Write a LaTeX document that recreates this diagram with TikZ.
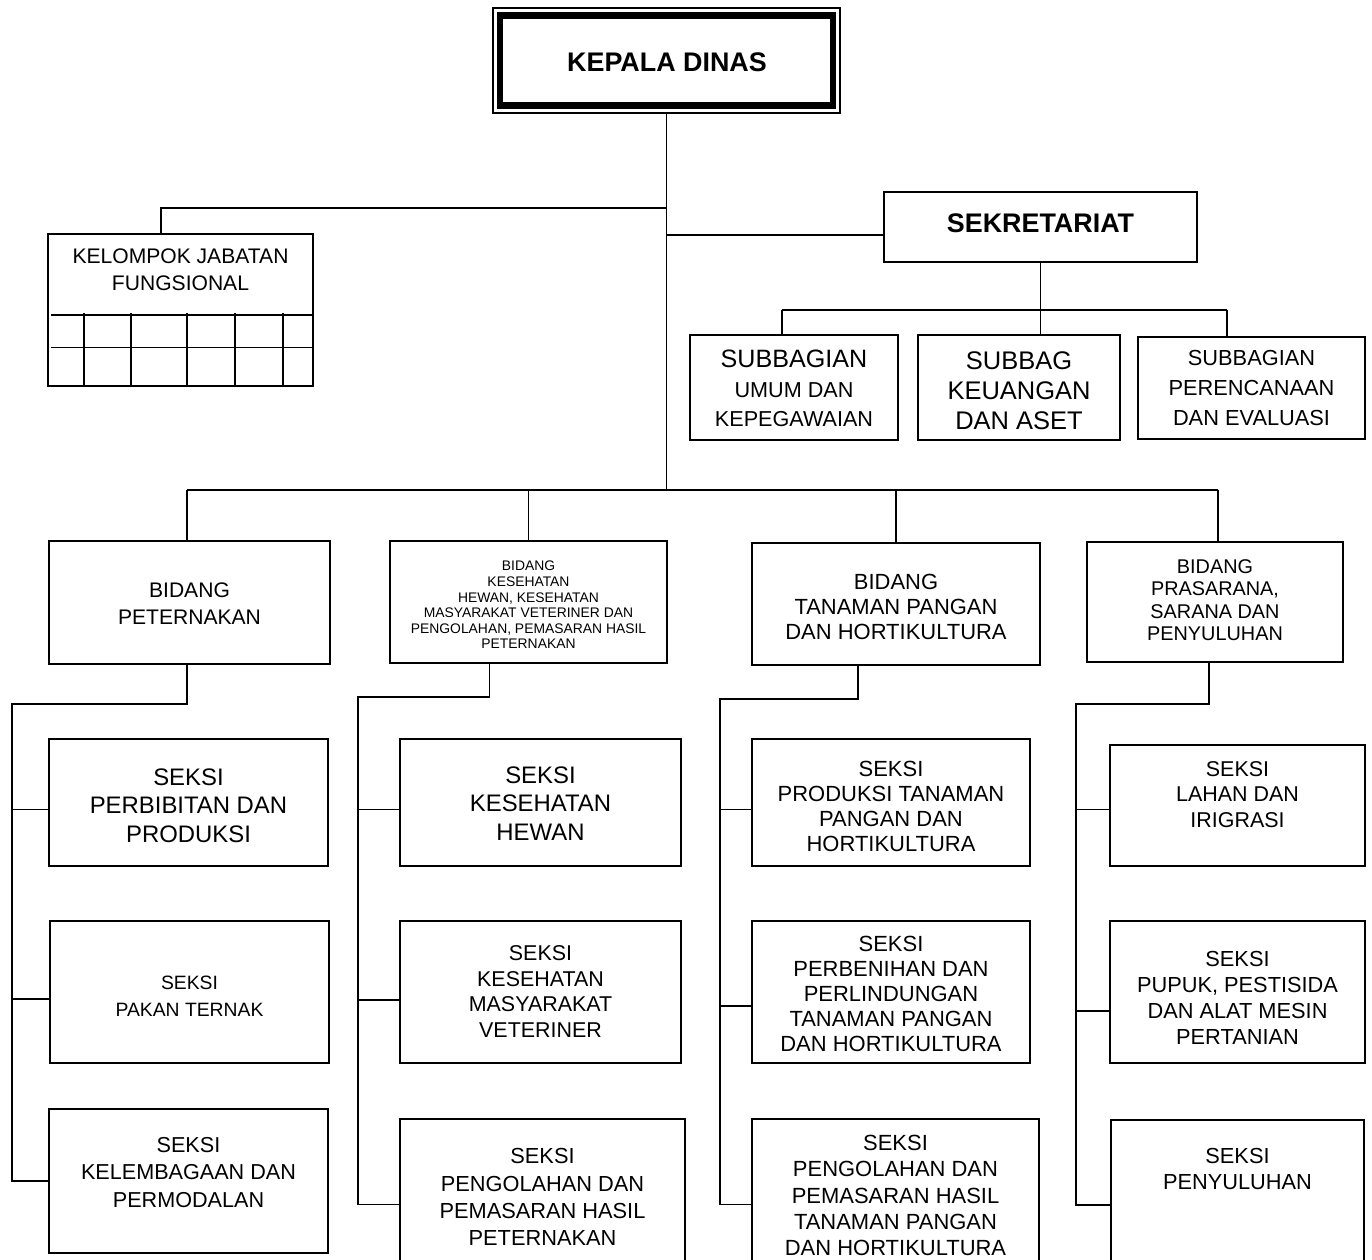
\documentclass[tikz,border=0pt]{standalone}
\usepackage{fontspec}
\setmainfont{Liberation Sans}
\usetikzlibrary{fit,calc}
\tikzset{
  box/.style={draw,line width=1pt,inner sep=0pt},
  kdin/.style={draw,line width=3.7pt,inner sep=0pt},
  txt/.style={align=center,inner sep=0pt},
  ln/.style={line width=1.05pt},
  gridln/.style={line width=0.8pt}
}
\newcommand{\fs}[2]{\fontsize{#1}{#2}\selectfont}
% name, x1, y1, x2, y2, text y, font, text
\newcommand{\orgbox}[8]{\node[box,fit={(#2,#3) (#4,#5)}] (#1) {};
  \node[txt,font=#7] (#1-t) at ({(#2+#4)/2},#6) {#8};}

\begin{document}
\begin{tikzpicture}[x=0.02cm,y=-0.02cm]
\useasboundingbox (0,0) rectangle (1372,1259);
\clip (0,0) rectangle (1372,1259);
% kepala dinas
\node[box,line width=0.8pt,fit={(493,8) (840,113)}] (kd) {};
\node[kdin,fit={(500,15.5) (833,105.5)}] (kd-in) {};
\node[txt,font=\fs{15.3}{18}\bfseries] (kd-t) at (667,62) {KEPALA DINAS};
\orgbox{sek}{884}{192}{1197}{262}{223}{\fs{15.3}{18}\bfseries}{SEKRETARIAT}
\orgbox{kjf}{48}{234}{313}{386}{269.5}{\fs{12}{15.3}}{KELOMPOK JABATAN\\FUNGSIONAL}
\draw[gridln] (51,315) -- (314,315);
\draw[gridln] (51,347.5) -- (313,347.5);
\foreach \gx in {84,131,187,235,283} \draw[gridln] (\gx,313) -- (\gx,386);
% subbagian
\orgbox{sb1}{690}{335}{898}{440}{388.5}{\fs{12.3}{16.7}}{{\fs{14.3}{16.7}SUBBAGIAN}\\UMUM DAN\\KEPEGAWAIAN}
\orgbox{sb2}{918}{335}{1120}{440}{391}{\fs{14.5}{17}}{SUBBAG\\KEUANGAN\\DAN ASET}
\orgbox{sb3}{1138}{337}{1365}{439}{388}{\fs{12.4}{17}}{SUBBAGIAN\\PERENCANAAN\\DAN EVALUASI}
% bidang
\orgbox{b1}{49}{541}{330}{664}{603.5}{\fs{12}{15.3}}{BIDANG\\PETERNAKAN}
\orgbox{b2}{390}{541}{667}{663}{605}{\fs{7.9}{8.85}}{BIDANG\\KESEHATAN\\HEWAN, KESEHATAN\\MASYARAKAT VETERINER DAN\\PENGOLAHAN, PEMASARAN HASIL\\PETERNAKAN}
\orgbox{b3}{752}{543}{1040}{665}{607}{\fs{12.5}{14.2}}{BIDANG\\TANAMAN PANGAN\\DAN HORTIKULTURA}
\orgbox{b4}{1087}{542}{1343}{662}{600}{\fs{11.3}{12.8}}{BIDANG\\PRASARANA,\\SARANA DAN\\PENYULUHAN}
% seksi
\orgbox{s11}{49}{739}{328}{866}{805.5}{\fs{13.6}{16.2}}{SEKSI\\PERBIBITAN DAN\\PRODUKSI}
\orgbox{s12}{50}{921}{329}{1063}{996.5}{\fs{11}{15.3}}{SEKSI\\PAKAN TERNAK}
\orgbox{s13}{49}{1109}{328}{1253}{1172.5}{\fs{12.3}{15.9}}{SEKSI\\KELEMBAGAAN DAN\\PERMODALAN}
\orgbox{s21}{400}{739}{681}{866}{803.5}{\fs{13.6}{16.2}}{SEKSI\\KESEHATAN\\HEWAN}
\orgbox{s22}{400}{921}{681}{1063}{991.5}{\fs{12.2}{14.5}}{SEKSI\\KESEHATAN\\MASYARAKAT\\VETERINER}
\orgbox{s23}{400}{1119}{685}{1290}{1197}{\fs{12.4}{15.5}}{SEKSI\\PENGOLAHAN DAN\\PEMASARAN HASIL\\PETERNAKAN}
\orgbox{s31}{752}{739}{1030}{866}{806.5}{\fs{12.5}{14.2}}{SEKSI\\PRODUKSI TANAMAN\\PANGAN DAN\\HORTIKULTURA}
\orgbox{s32}{752}{921}{1030}{1063}{994}{\fs{12.5}{14.2}}{SEKSI\\PERBENIHAN DAN\\PERLINDUNGAN\\TANAMAN PANGAN\\DAN HORTIKULTURA}
\orgbox{s33}{752}{1119}{1039}{1290}{1195.5}{\fs{12.5}{14.9}}{SEKSI\\PENGOLAHAN DAN\\PEMASARAN HASIL\\TANAMAN PANGAN\\DAN HORTIKULTURA}
\orgbox{s41}{1110}{745}{1365}{866}{794.5}{\fs{12.2}{14.5}}{SEKSI\\LAHAN DAN\\IRIGRASI}
\orgbox{s42}{1110}{921}{1365}{1063}{998}{\fs{12.4}{14.7}}{SEKSI\\PUPUK, PESTISIDA\\DAN ALAT MESIN\\PERTANIAN}
\orgbox{s43}{1111}{1120}{1364}{1290}{1169}{\fs{12.4}{15.3}}{SEKSI\\PENYULUHAN}
% top connectors
\coordinate (kl) at (161,208);
\coordinate (ks) at (667,235);
\coordinate (ml) at (187,490);
\coordinate (mr) at (1218,490);
\draw[ln] (kd.south) -- (kd.south |- mr);
\draw[ln] (kd.south |- kl) -- (kl) -- (kl |- kjf.north);
\draw[ln] (ks) -- (ks -| sek.west);
% sekretariat
\coordinate (sl) at (782,310);
\coordinate (sr) at (1227,310);
\draw[ln] (sek.south) -- (sek.south |- sb2.north);
\draw[ln] (sl) -- (sr);
\draw[ln] (sl) -- (sl |- sb1.north);
\draw[ln] (sr) -- (sr |- sb3.north);
% bidang
\draw[ln] (ml) -- (mr);
\draw[ln] (ml) -- (ml |- b1.north);
\draw[ln] (b2.north |- ml) -- (b2.north);
\draw[ln] (b3.north |- ml) -- (b3.north);
\draw[ln] (mr) -- (mr |- b4.north);
% seksi
\coordinate (e1) at (12,704);
\coordinate (e2) at (358,697);
\coordinate (e3) at (720,699);
\coordinate (e4) at (1076,704);
\draw[ln] ($(b1.south)+(-2.5,0)$) |- (e1) -- (e1 |- s13.west) -- (s13.west);
\draw[ln] ($(b2.south)+(-39,0)$) |- (e2) -- (e2 |- s23.west) -- (s23.west);
\draw[ln] ($(b3.south)+(-38,0)$) |- (e3) -- (e3 |- s33.west) -- (s33.west);
\draw[ln] ($(b4.south)+(-6,0)$) |- (e4) -- (e4 |- s43.west) -- (s43.west);
\draw[ln] (e1 |- s11.west) ++(0,7) -- ($(s11.west)+(0,7)$);
\draw[ln] (e1 |- s12.west) ++(0,7) -- ($(s12.west)+(0,7)$);
\draw[ln] (e2 |- s21.west) ++(0,7) -- ($(s21.west)+(0,7)$);
\draw[ln] (e2 |- s22.west) ++(0,8) -- ($(s22.west)+(0,8)$);
\draw[ln] (e3 |- s31.west) ++(0,7) -- ($(s31.west)+(0,7)$);
\draw[ln] (e3 |- s32.west) ++(0,14) -- ($(s32.west)+(0,14)$);
\draw[ln] (e4 |- s41.west) ++(0,4) -- ($(s41.west)+(0,4)$);
\draw[ln] (e4 |- s42.west) ++(0,19) -- ($(s42.west)+(0,19)$);
\end{tikzpicture}
\end{document}
